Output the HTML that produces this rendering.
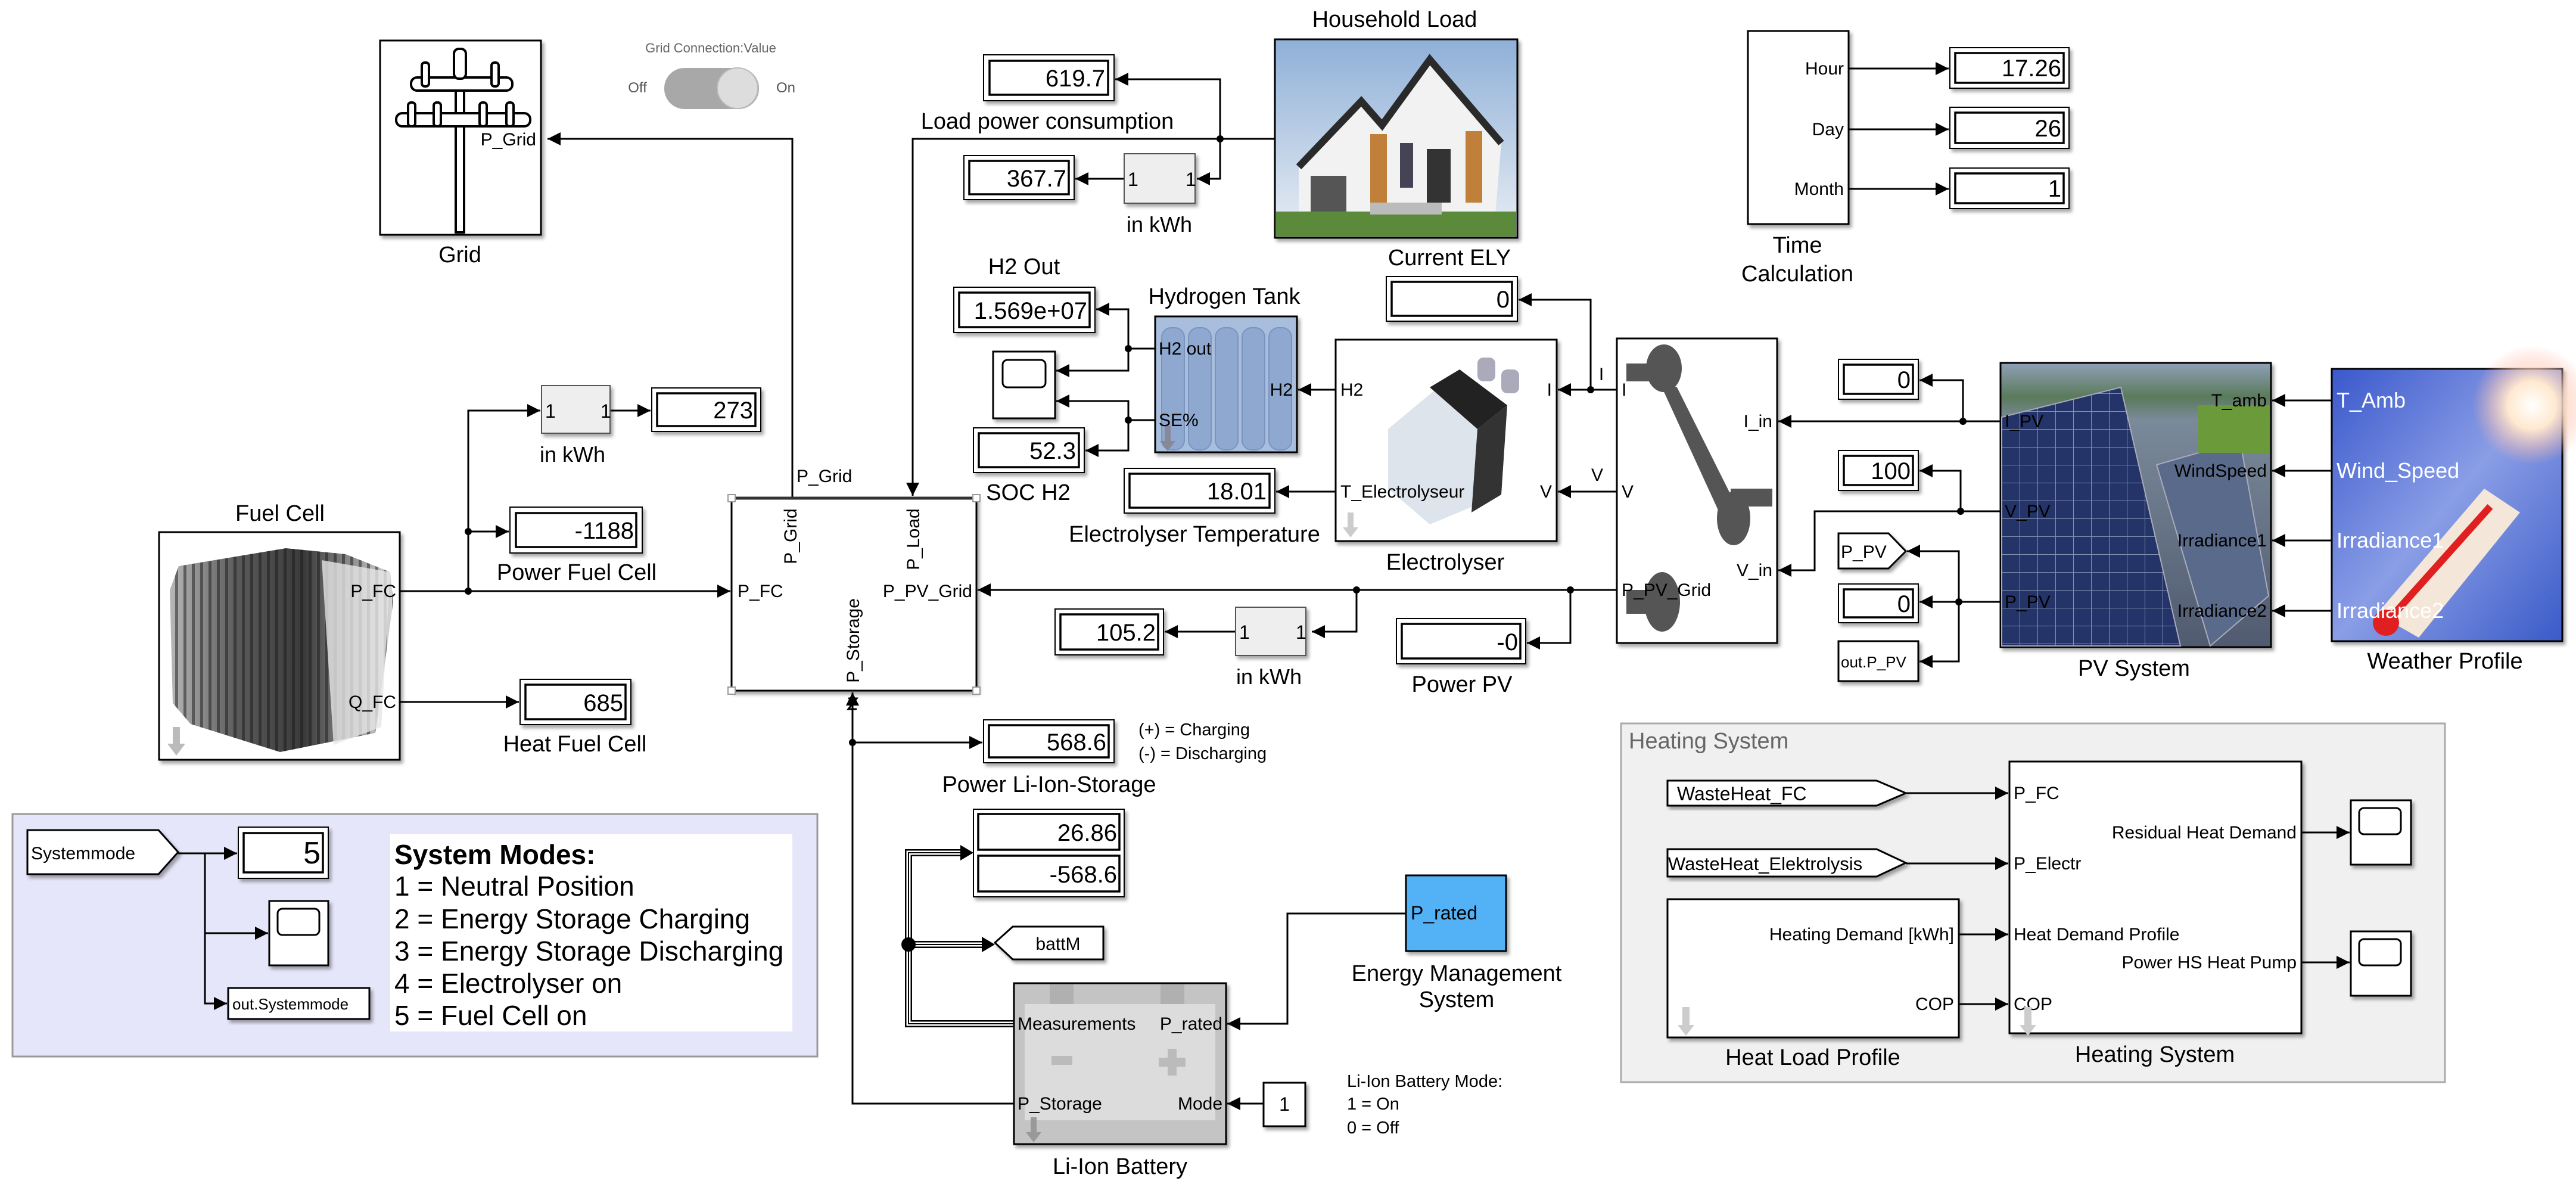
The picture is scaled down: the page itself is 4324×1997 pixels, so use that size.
<!DOCTYPE html>
<html><head><meta charset="utf-8"><style>
html,body{margin:0;padding:0;background:#fff}
svg{display:block}
text{font-family:"Liberation Sans",sans-serif;fill:#000}
</style></head><body>
<svg width="4324" height="1997" viewBox="0 0 4324 1997" xmlns="http://www.w3.org/2000/svg">
<defs>
<marker id="b" viewBox="0 0 10 10" refX="10" refY="5" markerWidth="22" markerHeight="22" markerUnits="userSpaceOnUse" orient="auto"><path d="M0,0L10,5L0,10z" fill="#000"/></marker>
<linearGradient id="fc" x1="0" y1="0" x2="1" y2="0"><stop offset="0" stop-color="#b8b8b8"/><stop offset=".3" stop-color="#5a5a5a"/><stop offset=".6" stop-color="#3a3a3a"/><stop offset="1" stop-color="#d8d8d8"/></linearGradient>
<pattern id="fcs" width="14" height="14" patternUnits="userSpaceOnUse"><rect width="5" height="14" fill="#1a1a1a" opacity=".5"/></pattern>
<linearGradient id="sky" x1="0" y1="0" x2="0" y2="1"><stop offset="0" stop-color="#8fb0d8"/><stop offset="1" stop-color="#e8eef4"/></linearGradient>
<linearGradient id="wth" x1="0" y1="0" x2="1" y2="1"><stop offset="0" stop-color="#3a58cc"/><stop offset=".5" stop-color="#8a9ee6"/><stop offset="1" stop-color="#3a5ac8"/></linearGradient>
<radialGradient id="sun" cx=".5" cy=".5" r=".5"><stop offset="0" stop-color="#fff"/><stop offset=".4" stop-color="#ffe9d0"/><stop offset="1" stop-color="#ffb0a0" stop-opacity="0"/></radialGradient>
<linearGradient id="pv" x1="0" y1="0" x2="0" y2="1"><stop offset="0" stop-color="#8fa0b8"/><stop offset=".12" stop-color="#5a7a5a"/><stop offset=".2" stop-color="#7a8a9a"/><stop offset="1" stop-color="#505a70"/></linearGradient>
<pattern id="pan" width="30" height="30" patternUnits="userSpaceOnUse"><rect width="30" height="30" fill="#243468"/><path d="M0,0H30M0,0V30" stroke="#8090b0" stroke-width="2"/></pattern>
<filter id="sh" x="-10%" y="-10%" width="130%" height="130%"><feDropShadow dx="4" dy="5" stdDeviation="3" flood-color="#000" flood-opacity=".35"/></filter>
</defs>

<g stroke="#000" stroke-width="3" fill="none">
<polyline points="1330,836 1330,233 919,233" marker-end="url(#b)"/>
<polyline points="2140,233 1532,233 1532,832" marker-end="url(#b)"/>
<polyline points="2048,233 2048,133 1872,133" marker-end="url(#b)"/>
<polyline points="2048,233 2048,300 2009,300" marker-end="url(#b)"/>
<polyline points="1887,300 1805,300" marker-end="url(#b)"/>
<polyline points="1939,585 1894,585 1894,519 1840,519" marker-end="url(#b)"/>
<polyline points="1894,585 1894,622 1773,622" marker-end="url(#b)"/>
<polyline points="1939,705 1894,705 1894,673 1773,673" marker-end="url(#b)"/>
<polyline points="1894,705 1894,756 1822,756" marker-end="url(#b)"/>
<polyline points="2242,654 2179,654" marker-end="url(#b)"/>
<polyline points="2242,825 2142,825" marker-end="url(#b)"/>
<polyline points="2714,654 2615,654" marker-end="url(#b)"/>
<polyline points="2670,654 2670,503 2549,503" marker-end="url(#b)"/>
<polyline points="2714,825 2615,825" marker-end="url(#b)"/>
<polyline points="3358,707 2985,707" marker-end="url(#b)"/>
<polyline points="3295,707 3295,638 3222,638" marker-end="url(#b)"/>
<polyline points="3358,858 3046,858 3046,957 2985,957" marker-end="url(#b)"/>
<polyline points="3291,858 3291,790 3222,790" marker-end="url(#b)"/>
<polyline points="3358,1010 3222,1010" marker-end="url(#b)"/>
<polyline points="3288,1010 3288,925 3201,925" marker-end="url(#b)"/>
<polyline points="3288,1010 3288,1110 3222,1110" marker-end="url(#b)"/>
<polyline points="2714,990 1641,990" marker-end="url(#b)"/>
<polyline points="2636,990 2636,1079 2563,1079" marker-end="url(#b)"/>
<polyline points="2277,990 2277,1060 2202,1060" marker-end="url(#b)"/>
<polyline points="2074,1060 1955,1060" marker-end="url(#b)"/>
<polyline points="3914,672 3814,672" marker-end="url(#b)"/>
<polyline points="3914,790 3814,790" marker-end="url(#b)"/>
<polyline points="3914,907 3814,907" marker-end="url(#b)"/>
<polyline points="3914,1025 3814,1025" marker-end="url(#b)"/>
<polyline points="3103,115 3271,115" marker-end="url(#b)"/>
<polyline points="3103,217 3271,217" marker-end="url(#b)"/>
<polyline points="3103,317 3271,317" marker-end="url(#b)"/>
<polyline points="671,992 1226,992" marker-end="url(#b)"/>
<polyline points="786,992 786,689 907,689" marker-end="url(#b)"/>
<polyline points="1024,689 1092,689" marker-end="url(#b)"/>
<polyline points="786,892 854,892" marker-end="url(#b)"/>
<polyline points="671,1178 871,1178" marker-end="url(#b)"/>
<polyline points="1702,1852 1431,1852 1431,1162" marker-end="url(#b)"/>
<polyline points="1431,1246 1649,1246" marker-end="url(#b)"/>
<polyline points="2360,1533 2161,1533 2161,1718 2060,1718" marker-end="url(#b)"/>
<polyline points="2121,1852 2060,1852" marker-end="url(#b)"/>
</g>
<g fill="none">
<polyline points="1702,1718 1525,1718 1525,1431 1615,1431" stroke="#000" stroke-width="12"/>
<polyline points="1702,1718 1525,1718 1525,1431 1615,1431" stroke="#fff" stroke-width="7"/>
<polyline points="1702,1718 1525,1718 1525,1431 1615,1431" stroke="#000" stroke-width="2"/>
<polyline points="1525,1585 1650,1585" stroke="#000" stroke-width="12"/>
<polyline points="1525,1585 1650,1585" stroke="#fff" stroke-width="7"/>
<polyline points="1525,1585 1650,1585" stroke="#000" stroke-width="2"/>
<path d="M1612,1418L1634,1431L1612,1444z M1648,1572L1670,1585L1648,1598z" fill="#000"/>
</g>
<g fill="#000">
<circle cx="2048" cy="233" r="6"/><circle cx="1894" cy="585" r="6"/><circle cx="1894" cy="705" r="6"/>
<circle cx="2670" cy="654" r="6"/><circle cx="3295" cy="707" r="6"/><circle cx="3291" cy="858" r="6"/>
<circle cx="3288" cy="1010" r="6"/><circle cx="2636" cy="990" r="6"/><circle cx="2277" cy="990" r="6"/>
<circle cx="786" cy="992" r="6"/><circle cx="786" cy="892" r="6"/><circle cx="1431" cy="1246" r="6"/>
<circle cx="1525" cy="1585" r="12"/><circle cx="344" cy="1432" r="6"/><circle cx="344" cy="1566" r="6"/>
</g>

<rect x="21" y="1366" width="1351" height="407" fill="#e6e6fa" stroke="#999" stroke-width="3"/>
<rect x="655" y="1400" width="675" height="331" fill="#fff"/>
<g font-size="46">
<text x="662" y="1450" font-weight="bold">System Modes:</text>
<text x="662" y="1503">1 = Neutral Position</text>
<text x="662" y="1558">2 = Energy Storage Charging</text>
<text x="662" y="1612">3 = Energy Storage Discharging</text>
<text x="662" y="1666">4 = Electrolyser on</text>
<text x="662" y="1720">5 = Fuel Cell on</text>
</g>
<g stroke="#000" stroke-width="3" fill="none">
<polyline points="299,1432 398,1432" marker-end="url(#b)"/>
<polyline points="344,1432 344,1684 381,1684" marker-end="url(#b)"/>
<polyline points="344,1566 450,1566" marker-end="url(#b)"/>
</g>
<polygon points="46,1393 266,1393 299,1430 266,1467 46,1467" fill="#fff" stroke="#000" stroke-width="3" filter="url(#sh)"/>
<text x="52" y="1442" font-size="30">Systemmode</text>
<rect x="383" y="1658" width="237" height="52" fill="#fff" stroke="#000" stroke-width="3" filter="url(#sh)"/>
<text x="390" y="1694" font-size="26">out.Systemmode</text>

<rect x="2721" y="1214" width="1383" height="602" fill="#f0f0f0" stroke="#aaa" stroke-width="3"/>
<text x="2734" y="1256" font-size="38" style="fill:#666">Heating System</text>
<g stroke="#000" stroke-width="3" fill="none">
<polyline points="3199,1331 3371,1331" marker-end="url(#b)"/>
<polyline points="3199,1449 3371,1449" marker-end="url(#b)"/>
<polyline points="3288,1568 3371,1568" marker-end="url(#b)"/>
<polyline points="3288,1685 3371,1685" marker-end="url(#b)"/>
<polyline points="3863,1397 3944,1397" marker-end="url(#b)"/>
<polyline points="3863,1615 3944,1615" marker-end="url(#b)"/>
</g>
<polygon points="2799,1310 3150,1310 3199,1331 3150,1352 2799,1352" fill="#fff" stroke="#000" stroke-width="3" filter="url(#sh)"/>
<text x="2815" y="1343" font-size="32">WasteHeat_FC</text>
<polygon points="2799,1425 3150,1425 3199,1448 3150,1471 2799,1471" fill="#fff" stroke="#000" stroke-width="3" filter="url(#sh)"/>
<text x="2800" y="1460" font-size="31">WasteHeat_Elektrolysis</text>
<rect x="3373" y="1278" width="490" height="456" fill="#fff" stroke="#000" stroke-width="3" filter="url(#sh)"/>
<rect x="2799" y="1509" width="489" height="232" fill="#fff" stroke="#000" stroke-width="3" filter="url(#sh)"/>
<g font-size="30">
<text x="3380" y="1341">P_FC</text>
<text x="3380" y="1459">P_Electr</text>
<text x="3380" y="1578">Heat Demand Profile</text>
<text x="3380" y="1695">COP</text>
<text x="3855" y="1407" text-anchor="end">Residual Heat Demand</text>
<text x="3855" y="1625" text-anchor="end">Power HS Heat Pump</text>
<text x="3280" y="1578" text-anchor="end">Heating Demand [kWh]</text>
<text x="3280" y="1695" text-anchor="end">COP</text>
</g>
<path d="M2824,1690v30h-8l14,18l14,-18h-8v-30z M3398,1690v30h-8l14,18l14,-18h-8v-30z" fill="#ccc"/>
<g font-size="38" text-anchor="middle">
<text x="3043" y="1787">Heat Load Profile</text>
<text x="3617" y="1782">Heating System</text>
</g>

<g fill="#fff" stroke="#000" stroke-width="3">
<rect x="1667" y="590" width="104" height="112" filter="url(#sh)"/><rect x="1683" y="604" width="72" height="46" rx="8"/>
<rect x="452" y="1512" width="99" height="108" filter="url(#sh)"/><rect x="466" y="1525" width="70" height="44" rx="8"/>
<rect x="3946" y="1343" width="101" height="108" filter="url(#sh)"/><rect x="3960" y="1356" width="70" height="44" rx="8"/>
<rect x="3946" y="1563" width="101" height="108" filter="url(#sh)"/><rect x="3960" y="1576" width="70" height="44" rx="8"/>
</g>

<g fill="#fff" stroke="#000">
<g stroke-width="2">
<rect x="1651" y="92" width="219" height="77" filter="url(#sh)"/>
<rect x="1618" y="261" width="185" height="74" filter="url(#sh)"/>
<rect x="1601" y="482" width="237" height="76" filter="url(#sh)"/>
<rect x="1634" y="718" width="186" height="75" filter="url(#sh)"/>
<rect x="1887" y="786" width="253" height="75" filter="url(#sh)"/>
<rect x="1094" y="651" width="183" height="73" filter="url(#sh)"/>
<rect x="856" y="851" width="222" height="77" filter="url(#sh)"/>
<rect x="873" y="1140" width="186" height="76" filter="url(#sh)"/>
<rect x="1651" y="1208" width="219" height="72" filter="url(#sh)"/>
<rect x="1771" y="1022" width="182" height="77" filter="url(#sh)"/>
<rect x="2344" y="1038" width="217" height="76" filter="url(#sh)"/>
<rect x="2327" y="464" width="220" height="75" filter="url(#sh)"/>
<rect x="3273" y="80" width="200" height="68" filter="url(#sh)"/>
<rect x="3273" y="180" width="200" height="69" filter="url(#sh)"/>
<rect x="3273" y="282" width="200" height="68" filter="url(#sh)"/>
<rect x="3086" y="603" width="134" height="67" filter="url(#sh)"/>
<rect x="3086" y="756" width="134" height="67" filter="url(#sh)"/>
<rect x="3086" y="980" width="134" height="65" filter="url(#sh)"/>
<rect x="400" y="1388" width="151" height="86" filter="url(#sh)"/>
<rect x="1634" y="1358" width="253" height="147" filter="url(#sh)"/>
</g>
<g stroke-width="3.5" fill="none">
<rect x="1661" y="102" width="199" height="57"/>
<rect x="1627" y="270" width="167" height="56"/>
<rect x="1610" y="491" width="219" height="58"/>
<rect x="1643" y="727" width="168" height="57"/>
<rect x="1896" y="795" width="235" height="57"/>
<rect x="1103" y="660" width="165" height="55"/>
<rect x="866" y="861" width="202" height="57"/>
<rect x="882" y="1149" width="168" height="58"/>
<rect x="1660" y="1217" width="201" height="54"/>
<rect x="1780" y="1031" width="164" height="59"/>
<rect x="2353" y="1047" width="199" height="58"/>
<rect x="2336" y="473" width="202" height="57"/>
<rect x="3282" y="89" width="182" height="50"/>
<rect x="3282" y="189" width="182" height="51"/>
<rect x="3282" y="291" width="182" height="50"/>
<rect x="3095" y="612" width="116" height="49"/>
<rect x="3095" y="765" width="116" height="49"/>
<rect x="3095" y="989" width="116" height="47"/>
<rect x="409" y="1398" width="133" height="66"/>
<rect x="1642" y="1366" width="237" height="60"/>
<rect x="1642" y="1436" width="237" height="60"/>
</g>
</g>
<g font-size="40" text-anchor="end">
<text x="1855" y="145">619.7</text>
<text x="1790" y="313">367.7</text>
<text x="1825" y="535">1.569e+07</text>
<text x="1806" y="770">52.3</text>
<text x="2126" y="838">18.01</text>
<text x="1264" y="702">273</text>
<text x="1064" y="904">-1188</text>
<text x="1046" y="1193">685</text>
<text x="1857" y="1259">568.6</text>
<text x="1940" y="1075">105.2</text>
<text x="2548" y="1091">-0</text>
<text x="2534" y="516">0</text>
<text x="3460" y="128">17.26</text>
<text x="3460" y="229">26</text>
<text x="3460" y="330">1</text>
<text x="3207" y="651">0</text>
<text x="3207" y="804">100</text>
<text x="3207" y="1027">0</text>
<text x="538" y="1449" font-size="52">5</text>
<text x="1875" y="1411">26.86</text>
<text x="1875" y="1481">-568.6</text>
</g>

<g fill="#eee" stroke="#555" stroke-width="2">
<rect x="1887" y="258" width="119" height="83" filter="url(#sh)"/>
<rect x="909" y="647" width="115" height="80" filter="url(#sh)"/>
<rect x="2074" y="1019" width="118" height="81" filter="url(#sh)"/>
</g>
<g font-size="32">
<text x="1893" y="312">1</text><text x="1990" y="312">1</text>
<text x="915" y="701">1</text><text x="1008" y="701">1</text>
<text x="2080" y="1072">1</text><text x="2175" y="1072">1</text>
</g>
<g font-size="36" text-anchor="middle">
<text x="1946" y="389">in kWh</text>
<text x="961" y="775">in kWh</text>
<text x="2130" y="1148">in kWh</text>
</g>

<rect x="638" y="68" width="270" height="326" fill="#fff" stroke="#000" stroke-width="3" filter="url(#sh)"/>
<g fill="#fff" stroke="#000" stroke-width="4">
<rect x="765" y="85" width="14" height="305"/>
<rect x="690" y="130" width="170" height="22" rx="10"/>
<rect x="665" y="190" width="225" height="22" rx="10"/>
<rect x="762" y="82" width="20" height="50" rx="8"/>
<rect x="708" y="105" width="12" height="40" rx="5"/><rect x="825" y="105" width="12" height="40" rx="5"/>
<rect x="685" y="172" width="12" height="40" rx="5"/><rect x="728" y="172" width="12" height="40" rx="5"/>
<rect x="805" y="172" width="12" height="40" rx="5"/><rect x="850" y="172" width="12" height="40" rx="5"/>
</g>
<text x="900" y="244" font-size="30" text-anchor="end">P_Grid</text>
<text x="772" y="440" font-size="38" text-anchor="middle">Grid</text>
<text x="1193" y="88" font-size="22" style="fill:#666" text-anchor="middle">Grid Connection:Value</text>
<rect x="1115" y="114" width="159" height="69" rx="34" fill="#a8a8a8"/>
<ellipse cx="1238" cy="148" rx="34" ry="34" fill="#ddd" stroke="#bbb" stroke-width="2"/>
<text x="1070" y="155" font-size="24" style="fill:#555" text-anchor="middle">Off</text>
<text x="1319" y="155" font-size="24" style="fill:#555" text-anchor="middle">On</text>

<g font-size="38" text-anchor="middle">
<text x="1758" y="216">Load power consumption</text>
<text x="1719" y="460">H2 Out</text>
<text x="2055" y="510">Hydrogen Tank</text>
<text x="1726" y="839">SOC H2</text>
<text x="2005" y="909">Electrolyser Temperature</text>
<text x="470" y="874">Fuel Cell</text>
<text x="968" y="973">Power Fuel Cell</text>
<text x="965" y="1261">Heat Fuel Cell</text>
<text x="1761" y="1329">Power Li-Ion-Storage</text>
<text x="1880" y="1970">Li-Ion Battery</text>
<text x="2445" y="1646">Energy Management</text>
<text x="2445" y="1690">System</text>
<text x="2341" y="45">Household Load</text>
<text x="2433" y="445">Current ELY</text>
<text x="2426" y="956">Electrolyser</text>
<text x="3017" y="424">Time</text>
<text x="3017" y="472">Calculation</text>
<text x="3582" y="1134">PV System</text>
<text x="4104" y="1122">Weather Profile</text>
<text x="2454" y="1161">Power PV</text>
</g>
<g font-size="29">
<text x="1911" y="1234">(+) = Charging</text>
<text x="1911" y="1274">(-) = Discharging</text>
<text x="2261" y="1824">Li-Ion Battery Mode:</text>
<text x="2261" y="1862">1 = On</text>
<text x="2261" y="1902">0 = Off</text>
</g>
<text x="1337" y="809" font-size="30">P_Grid</text>

<rect x="1228" y="836" width="411" height="323" fill="#fff" stroke="#000" stroke-width="3" filter="url(#sh)"/>
<line x1="1228" y1="836" x2="1639" y2="836" stroke="#333" stroke-width="5"/>
<g fill="#fff" stroke="#999" stroke-width="2">
<rect x="1222" y="830" width="12" height="12"/><rect x="1633" y="830" width="12" height="12"/>
<rect x="1222" y="1153" width="12" height="12"/><rect x="1633" y="1153" width="12" height="12"/>
</g>
<g font-size="30">
<text x="1238" y="1002">P_FC</text>
<text x="1632" y="1002" text-anchor="end">P_PV_Grid</text>
<text transform="translate(1337,900) rotate(-90)" text-anchor="middle">P_Grid</text>
<text transform="translate(1543,905) rotate(-90)" text-anchor="middle">P_Load</text>
<text transform="translate(1442,1075) rotate(-90)" text-anchor="middle">P_Storage</text>
</g>
<path d="M1424,1172h14l-14,18h14" stroke="#000" stroke-width="3" fill="none"/>

<rect x="267" y="893" width="404" height="382" fill="#fff" stroke="#000" stroke-width="3" filter="url(#sh)"/>
<polygon points="285,990 300,950 480,920 580,930 655,960 660,1010 630,1230 470,1262 320,1215 290,1180" fill="url(#fc)"/>
<polygon points="285,990 300,950 480,920 580,930 655,960 660,1010 630,1230 470,1262 320,1215 290,1180" fill="url(#fcs)"/>
<polygon points="540,940 655,960 640,1220 560,1250" fill="#e6e6e6" opacity=".8"/>
<path d="M290,1220v28h-9l15,20l15,-20h-9v-28z" fill="#bbb"/>
<g font-size="30"><text x="665" y="1002" text-anchor="end">P_FC</text><text x="665" y="1188" text-anchor="end">Q_FC</text></g>

<rect x="2140" y="66" width="407" height="333" fill="url(#sky)" stroke="#000" stroke-width="3" filter="url(#sh)"/>
<polygon points="2180,280 2285,170 2320,210 2400,100 2520,240 2510,360 2180,360" fill="#f2f2f2"/>
<polyline points="2180,280 2285,170 2320,210 2400,100 2520,240" fill="none" stroke="#2a2a2a" stroke-width="12"/>
<rect x="2200" y="295" width="60" height="65" fill="#555"/>
<rect x="2300" y="225" width="28" height="115" fill="#c0803a"/>
<rect x="2460" y="220" width="28" height="120" fill="#c0803a"/>
<rect x="2350" y="240" width="22" height="75" fill="#445"/>
<rect x="2395" y="250" width="40" height="90" fill="#333"/>
<rect x="2142" y="355" width="403" height="42" fill="#5a8a3a"/>
<rect x="2300" y="340" width="120" height="20" fill="#bbb"/>

<rect x="1939" y="531" width="238" height="228" fill="#a9bedd" stroke="#000" stroke-width="3" filter="url(#sh)"/>
<g fill="#8ea8d0" stroke="#7a94c0" stroke-width="2">
<rect x="1950" y="550" width="38" height="205" rx="16"/><rect x="1995" y="550" width="38" height="205" rx="16"/>
<rect x="2040" y="550" width="38" height="205" rx="16"/><rect x="2085" y="550" width="38" height="205" rx="16"/>
<rect x="2130" y="550" width="38" height="205" rx="16"/>
</g>
<path d="M1955,715v25h-8l13,17l13,-17h-8v-25z" fill="#889"/>
<g font-size="30"><text x="1945" y="595">H2 out</text><text x="1945" y="715">SE%</text><text x="2170" y="664" text-anchor="end">H2</text></g>

<rect x="2242" y="570" width="371" height="338" fill="#fff" stroke="#000" stroke-width="3" filter="url(#sh)"/>
<polygon points="2330,720 2450,620 2530,680 2520,830 2400,880 2330,820" fill="#dde4ec"/>
<polygon points="2400,650 2450,620 2530,680 2480,720" fill="#222"/>
<polygon points="2480,720 2530,680 2520,830 2470,860" fill="#333"/>
<rect x="2480" y="600" width="30" height="40" rx="10" fill="#aab"/>
<rect x="2520" y="620" width="30" height="40" rx="10" fill="#aab"/>
<path d="M2262,860v25h-8l13,17l13,-17h-8v-25z" fill="#ccc"/>
<g font-size="30"><text x="2250" y="664">H2</text><text x="2250" y="835">T_Electrolyseur</text>
<text x="2605" y="664" text-anchor="end">I</text><text x="2605" y="835" text-anchor="end">V</text>
<text x="2688" y="638" text-anchor="middle">I</text><text x="2681" y="807" text-anchor="middle">V</text></g>

<rect x="2714" y="568" width="269" height="511" fill="#fff" stroke="#000" stroke-width="3" filter="url(#sh)"/>
<g fill="#555">
<rect x="2730" y="610" width="60" height="30"/>
<ellipse cx="2793" cy="618" rx="30" ry="40"/>
<polygon points="2785,640 2815,650 2925,870 2895,880"/>
<ellipse cx="2910" cy="870" rx="28" ry="45"/>
<rect x="2905" y="820" width="70" height="30"/>
<rect x="2730" y="990" width="40" height="40"/>
<ellipse cx="2790" cy="1010" rx="30" ry="50"/>
</g>
<g font-size="30"><text x="2722" y="664">I</text><text x="2722" y="835">V</text><text x="2722" y="1000">P_PV_Grid</text>
<text x="2975" y="717" text-anchor="end">I_in</text><text x="2975" y="967" text-anchor="end">V_in</text></g>

<rect x="3358" y="609" width="454" height="477" fill="url(#pv)" stroke="#000" stroke-width="3" filter="url(#sh)"/>
<polygon points="3360,700 3560,650 3660,1084 3360,1084" fill="url(#pan)" stroke="#aab" stroke-width="2"/>
<polygon points="3620,780 3760,740 3808,1000 3710,1084" fill="#5a6a8a" stroke="#aab" stroke-width="2"/>
<rect x="3690" y="680" width="120" height="80" fill="#6a9a3a"/>
<g font-size="30">
<text x="3805" y="682" text-anchor="end">T_amb</text><text x="3805" y="800" text-anchor="end">WindSpeed</text>
<text x="3805" y="917" text-anchor="end">Irradiance1</text><text x="3805" y="1035" text-anchor="end">Irradiance2</text>
<text x="3365" y="717">I_PV</text><text x="3365" y="868">V_PV</text><text x="3365" y="1020">P_PV</text></g>

<rect x="3914" y="619" width="387" height="457" fill="url(#wth)" stroke="#000" stroke-width="3" filter="url(#sh)"/>
<circle cx="4250" cy="680" r="100" fill="url(#sun)"/>
<polygon points="3990,1030 4170,820 4230,860 4060,1070" fill="#f4e6d8"/>
<line x1="4010" y1="1040" x2="4180" y2="850" stroke="#e02020" stroke-width="12"/>
<circle cx="4005" cy="1045" r="22" fill="#e02020"/>
<g font-size="36" style="fill:#fff"><text x="3922" y="684" style="fill:#fff">T_Amb</text><text x="3922" y="802" style="fill:#fff">Wind_Speed</text>
<text x="3922" y="919" style="fill:#fff">Irradiance1</text><text x="3922" y="1037" style="fill:#fff">Irradiance2</text></g>

<rect x="2934" y="52" width="169" height="324" fill="#fff" stroke="#000" stroke-width="3" filter="url(#sh)"/>
<g font-size="30" text-anchor="end"><text x="3095" y="125">Hour</text><text x="3095" y="227">Day</text><text x="3095" y="327">Month</text></g>

<polygon points="3086,895 3170,895 3199,925 3170,954 3086,954" fill="#fff" stroke="#000" stroke-width="3" filter="url(#sh)"/>
<text x="3090" y="936" font-size="30">P_PV</text>
<rect x="3086" y="1076" width="134" height="67" fill="#fff" stroke="#000" stroke-width="3" filter="url(#sh)"/>
<text x="3090" y="1120" font-size="26">out.P_PV</text>

<polygon points="1670,1582 1700,1555 1852,1555 1852,1610 1700,1610" fill="#fff" stroke="#000" stroke-width="3" filter="url(#sh)"/>
<text x="1776" y="1594" font-size="30" text-anchor="middle">battM</text>

<rect x="1702" y="1650" width="356" height="270" fill="#c4c4c4" stroke="#000" stroke-width="3" filter="url(#sh)"/>
<rect x="1720" y="1685" width="320" height="195" fill="#dcdcdc"/>
<rect x="1762" y="1652" width="40" height="33" fill="#b0b0b0"/><rect x="1948" y="1652" width="40" height="33" fill="#b0b0b0"/>
<rect x="1765" y="1772" width="35" height="15" fill="#bbb"/>
<rect x="1960" y="1760" width="15" height="45" fill="#bbb"/><rect x="1945" y="1775" width="45" height="15" fill="#bbb"/>
<path d="M1730,1875v25h-8l13,17l13,-17h-8v-25z" fill="#999"/>
<g font-size="30"><text x="1708" y="1728">Measurements</text><text x="2052" y="1728" text-anchor="end">P_rated</text>
<text x="1708" y="1862">P_Storage</text><text x="2052" y="1862" text-anchor="end">Mode</text></g>
<rect x="2121" y="1817" width="70" height="73" fill="#fff" stroke="#000" stroke-width="3" filter="url(#sh)"/>
<text x="2156" y="1864" font-size="32" text-anchor="middle">1</text>

<rect x="2360" y="1469" width="168" height="127" fill="#52b2f5" stroke="#000" stroke-width="3" filter="url(#sh)"/>
<text x="2368" y="1543" font-size="32">P_rated</text>
</svg>
</body></html>
